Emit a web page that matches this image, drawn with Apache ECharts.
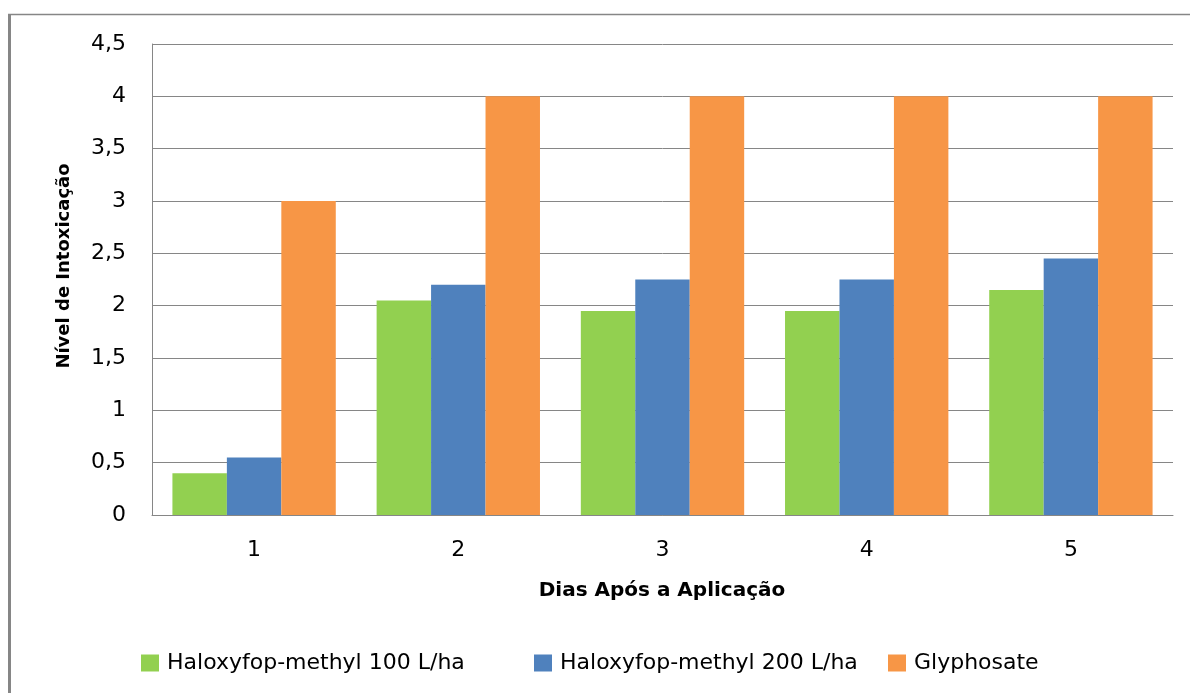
<!DOCTYPE html>
<html>
<head>
<meta charset="utf-8">
<script src="https://cdn.jsdelivr.net/npm/echarts@6/dist/echarts.min.js"></script>
<style>
html,body{margin:0;padding:0;background:#fff;}
#chart{width:1191px;height:693px;}
</style>
</head>
<body>
<div id="chart"></div>
<script>
const categories = ['1', '2', '3', '4', '5'];
const seriesNames = ['Haloxyfop-methyl 100 L/ha', 'Haloxyfop-methyl 200 L/ha', 'Glyphosate'];
const halo100 = [0.4, 2.05, 1.95, 1.95, 2.15];
const halo200 = [0.55, 2.2, 2.25, 2.25, 2.45];
const glyphosate = [3, 4, 4, 4, 4];
const xTitle = 'Dias Após a Aplicação';
const yTitle = 'Nível de Intoxicação';

const colors = ['#92D050', '#4F81BD', '#F79646'];
const legendLeft = [141, 534, 888];
const FONT = 'DejaVu Sans';

const chart = echarts.init(document.getElementById('chart'));
const seriesData = [halo100, halo200, glyphosate];

chart.setOption({
  animation: false,
  backgroundColor: '#ffffff',
  grid: { left: 152, top: 44, right: 18, bottom: 178, containLabel: false },
  xAxis: {
    type: 'category',
    data: categories,
    axisLine: { show: true, lineStyle: { color: '#868686', width: 1 } },
    axisTick: { show: false },
    axisLabel: { color: '#000', fontFamily: FONT, fontSize: 22, margin: 24 }
  },
  yAxis: {
    type: 'value',
    min: 0,
    max: 4.5,
    interval: 0.5,
    axisLine: { show: true, lineStyle: { color: '#868686', width: 1 } },
    axisTick: { show: false },
    splitLine: { show: true, lineStyle: { color: '#868686', width: 1 } },
    axisLabel: {
      color: '#000', fontFamily: FONT, fontSize: 22, margin: 26,
      formatter: v => String(v).replace('.', ',')
    }
  },
  legend: seriesNames.map((name, i) => ({
    left: legendLeft[i],
    top: 652,
    padding: 0,
    itemWidth: 18,
    itemHeight: 17,
    icon: 'rect',
    textStyle: { color: '#000', fontFamily: FONT, fontSize: 22, lineHeight: 22, padding: [0, 0, 0, 3] },
    data: [name]
  })),
  series: seriesNames.map((name, i) => ({
    name: name,
    type: 'bar',
    data: seriesData[i],
    barGap: '0%',
    barCategoryGap: '20%',
    itemStyle: { color: colors[i] }
  })),
  graphic: [
    { type: 'line', shape: { x1: 9.5, y1: 14, x2: 9.5, y2: 693 }, style: { stroke: '#868686', lineWidth: 3 }, silent: true },
    { type: 'line', shape: { x1: 8, y1: 14.5, x2: 1190, y2: 14.5 }, style: { stroke: '#868686', lineWidth: 1.5 }, silent: true },
    { type: 'text', x: 662, y: 591, style: { text: xTitle, fill: '#000', font: 'bold 20px "DejaVu Sans"', textAlign: 'center', textVerticalAlign: 'middle' }, silent: true },
    { type: 'text', x: 64, y: 266, rotation: Math.PI / 2, style: { text: yTitle, fill: '#000', font: 'bold 18px "DejaVu Sans"', textAlign: 'center', textVerticalAlign: 'middle' }, silent: true }
  ]
});
</script>
</body>
</html>
